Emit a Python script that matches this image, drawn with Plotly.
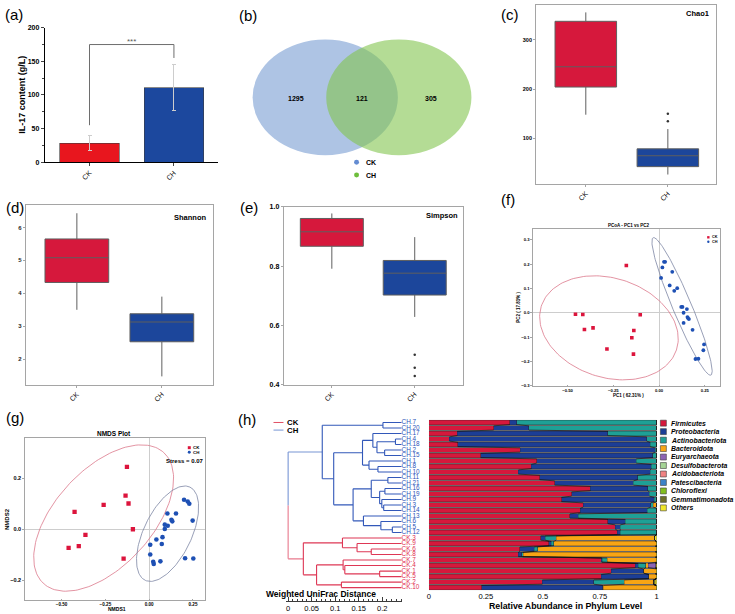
import numpy as np
import plotly.graph_objects as go

W, H = 735, 614
FONT = "Liberation Sans, Arial, sans-serif"


def px(x):
    return x / W


def py(y):
    return 1 - y / H


def dom_x(a, b):
    return [a / W, b / W]


def dom_y(top, bottom):
    return [1 - bottom / H, 1 - top / H]


# ---------------- data ----------------
GROUPS = ["CK", "CH"]
CK_RED = "rgb(214,24,60)"
CH_BLUE = "rgb(28,70,155)"

# (a) IL-17
IL17_MEAN = [28, 111]
IL17_ERR = [11, 34]
IL17_COLORS = ["rgb(232,22,30)", "rgb(28,72,158)"]
SIG_Y = 175
SIG_DROP = [55, 155]

# (b) Venn
VENN_COUNTS = [1295, 121, 305]

# (c)(d)(e) box statistics  [CK, CH]
CHAO1 = dict(lower=[148, 27], q1=[204, 43], median=[245, 65], q3=[337, 79], upper=[355, 119])
CHAO1_OUT_CH = [135, 150]
SHANNON = dict(lower=[3.50, 1.48], q1=[4.33, 2.53], median=[5.08, 3.13], q3=[5.65, 3.38], upper=[6.43, 3.90])
SIMPSON = dict(lower=[0.791, 0.628], q1=[0.867, 0.702], median=[0.916, 0.776], q3=[0.961, 0.819], upper=[0.978, 0.898])
SIMPSON_OUT_CH = [0.428, 0.456, 0.50]

# (f) PCoA
PCOA_CK_X = [-0.179, -0.457, -0.417, -0.408, -0.361, -0.285, -0.149, -0.138, -0.140, -0.103]
PCOA_CK_Y = [0.194, -0.006, -0.007, -0.069, -0.062, -0.149, -0.103, -0.073, -0.170, -0.008]
PCOA_CH_X = [0.027, 0.033, 0.018, 0.072, 0.011, 0.058, 0.099, 0.083, 0.121, 0.128, 0.152,
             0.134, 0.155, 0.163, 0.158, 0.134, 0.183, 0.246, 0.242, 0.199, 0.215]
PCOA_CH_Y = [0.209, 0.209, 0.186, 0.168, 0.143, 0.112, 0.101, 0.090, 0.024, 0.024, 0.015,
             0.000, -0.018, -0.026, -0.022, -0.042, -0.070, -0.130, -0.154, -0.190, -0.189]
# ellipse: centre x, centre y, semi-axis a (px), semi-axis b (px), tilt (deg)
PCOA_ELL_CK = [-0.274, -0.062, 71.5, 50.3, 18.3]
PCOA_ELL_CH = [0.1255, 0.026, 75.5, 9.5, 67.4]

# (g) NMDS
NMDS_CK_X = [-0.127, -0.135, -0.118, -0.260, -0.426, -0.364, -0.402, -0.460, -0.093, -0.146]
NMDS_CK_Y = [0.245, 0.132, 0.101, 0.096, 0.068, -0.022, -0.066, -0.073, 0.000, -0.115]
NMDS_CH_X = [0.199, 0.220, 0.229, 0.248, 0.153, 0.104, 0.127, 0.132, 0.089, 0.106, 0.089,
             0.076, 0.041, 0.072, 0.006, 0.006, 0.023, 0.026, 0.064, 0.205, 0.252]
NMDS_CH_Y = [0.116, 0.109, 0.100, 0.034, 0.062, 0.062, 0.037, 0.031, 0.018, 0.014, 0.001,
             -0.031, -0.040, -0.058, -0.061, -0.099, -0.128, -0.136, -0.126, -0.114, -0.115]
NMDS_ELL_CK = [-0.26, 0.044, 89.6, 48.8, -47.7]
NMDS_ELL_CH = [0.105, -0.0175, 52.2, 24.0, -64.5]

# (h) samples, dendrogram and phylum composition
SAMPLES = ["CH.7", "CH.20", "CH.17", "CH.4", "CH.18", "CH.2", "CH.15", "CH.1", "CH.8", "CH.10",
           "CH.11", "CH.21", "CH.16", "CH.19", "CH.9", "CH.3", "CH.14", "CH.13", "CH.6", "CH.5",
           "CH.12", "CK.3", "CK.9", "CK.6", "CK.8", "CK.7", "CK.4", "CK.1", "CK.5", "CK.2", "CK.10"]
LEAF_X = 0.2409
DENDRO_MERGES = [
    ("n0", 0, 1, 0.2014), ("n1", 3, 4, 0.228), ("n2", 5, 6, 0.205), ("n3", "n1", "n2", 0.1887),
    ("n4", 2, "n3", 0.180), ("n5", 8, 9, 0.1908), ("n6", 7, "n5", 0.1718), ("n7", "n4", "n6", 0.158),
    ("n8", 10, 11, 0.2119), ("n9", 12, 13, 0.2056), ("n10", 15, 16, 0.203), ("n11", 14, "n10", 0.199),
    ("n12", "n9", "n11", 0.1944), ("n13", "n8", "n12", 0.1766), ("n14", 19, 20, 0.2214),
    ("n15", 18, "n14", 0.197), ("n16", 17, "n15", 0.160), ("n17", "n13", "n16", 0.138),
    ("n18", "n7", "n17", 0.0968), ("n19", "n0", "n18", 0.0725),
    ("n20", 23, 24, 0.1766), ("n21", 22, "n20", 0.1464), ("n22", 21, "n21", 0.1154),
    ("n23", 27, 28, 0.1944), ("n24", 26, "n23", 0.1204), ("n25", 25, "n24", 0.1168),
    ("n26", 29, 30, 0.1132), ("n27", "n25", "n26", 0.0604), ("n28", "n22", "n27", 0.0323),
    ("n29", "n19", "n28", 0.0),
]

PHYLA = ["Firmicutes", "Proteobacteria", "Actinobacteriota", "Bacteroidota", "Euryarchaeota",
         "Desulfobacterota", "Acidobacteriota", "Patescibacteria", "Chloroflexi",
         "Gemmatimonadota", "Others"]
PHYLA_COLORS = ["rgb(214,24,60)", "rgb(28,62,150)", "rgb(30,160,150)", "rgb(248,165,20)",
                "rgb(140,100,180)", "rgb(165,212,150)", "rgb(240,130,130)", "rgb(60,130,200)",
                "rgb(130,190,30)", "rgb(110,110,40)", "rgb(240,230,40)"]
FIRMICUTES = [0.355, 0.284, 0.124, 0.090, 0.127, 0.400, 0.228, 0.473, 0.450, 0.393, 0.486, 0.552,
              0.709, 0.626, 0.582, 0.677, 0.664, 0.619, 0.786, 0.818, 0.827, 0.491, 0.527, 0.399,
              0.393, 0.757, 0.906, 0.800, 0.757, 0.498, 0.231]
PROTEOBACTERIA = [0.030, 0.155, 0.662, 0.866, 0.844, 0.593, 0.755, 0.437, 0.527, 0.578, 0.430, 0.346,
                  0.252, 0.342, 0.407, 0.297, 0.295, 0.036, 0.076, 0.022, 0.013, 0.019, 0.010, 0.063,
                  0.015, 0.003, 0.012, 0.142, 0.207, 0.226, 0.532]
ACTINOBACTERIOTA = [0.615, 0.561, 0.214, 0.044, 0.029, 0.007, 0.017, 0.090, 0.023, 0.029, 0.084, 0.102,
                    0.039, 0.032, 0.011, 0.011, 0.041, 0.345, 0.138, 0.160, 0.160, 0.049, 0.011, 0.015,
                    0.005, 0.022, 0.034, 0.002, 0.002, 0.134, 0.003]
BACTEROIDOTA = [0.0] * 15 + [0.015] + [0.0] * 5 + [0.433, 0.450, 0.521, 0.585, 0.216, 0.010, 0.054,
                                                   0.032, 0.128, 0.231]
EURYARCHAEOTA = [0.0] * 26 + [0.034] + [0.0] * 4
DESULFOBACTEROTA = [0.0] * 26 + [0.002] + [0.0] * 4
ACIDOBACTERIOTA = [0.0] * 31
PATESCIBACTERIA = [0.0] * 31
CHLOROFLEXI = [0.0] * 31
GEMMATIMONADOTA = [0.0] * 29 + [0.008, 0.0]
OTHERS = [0.0] * 21 + [0.008, 0.002, 0.002, 0.002, 0.002, 0.002, 0.002, 0.002, 0.006, 0.003]
PHYLA_VALUES = [FIRMICUTES, PROTEOBACTERIA, ACTINOBACTERIOTA, BACTEROIDOTA, EURYARCHAEOTA,
                DESULFOBACTEROTA, ACIDOBACTERIOTA, PATESCIBACTERIA, CHLOROFLEXI, GEMMATIMONADOTA, OTHERS]

# ---------------- figure ----------------
fig = go.Figure()
shapes = []
annotations = []


def ann(x, y, text, size=8, color="black", xanchor="center", yanchor="middle", angle=0):
    annotations.append(dict(x=px(x), y=py(y), xref="paper", yref="paper", text=text, showarrow=False,
                            font=dict(size=size, color=color, family=FONT), xanchor=xanchor,
                            yanchor=yanchor, textangle=angle, borderpad=0))


# panel letters
for lab, x, y in [("(a)", 2, 11), ("(b)", 237, 12), ("(c)", 501, 11), ("(d)", 3, 206),
                  ("(e)", 238, 206), ("(f)", 501, 198), ("(g)", 3, 418), ("(h)", 236, 420)]:
    ann(x, y, lab, size=15, xanchor="left")

# (a) bars
fig.add_trace(go.Bar(x=GROUPS, y=IL17_MEAN, width=0.706, xaxis="x", yaxis="y", showlegend=False,
                     marker=dict(color=IL17_COLORS, line=dict(color="rgb(60,60,60)", width=0.6)),
                     error_y=dict(type="data", array=IL17_ERR, color="rgb(205,205,205)",
                                  thickness=1, width=2)))
shapes += [
    dict(type="line", xref="x", yref="y", x0=0, x1=1, y0=SIG_Y, y1=SIG_Y, line=dict(color="rgb(110,110,110)", width=1)),
    dict(type="line", xref="x", yref="y", x0=0, x1=0, y0=SIG_Y, y1=SIG_DROP[0], line=dict(color="rgb(110,110,110)", width=1)),
    dict(type="line", xref="x", yref="y", x0=1, x1=1, y0=SIG_Y, y1=SIG_DROP[1], line=dict(color="rgb(110,110,110)", width=1)),
]
annotations.append(dict(x=0.5, y=SIG_Y, xref="x", yref="y", text="***", showarrow=False, yanchor="bottom",
                        font=dict(size=8, color="rgb(90,90,90)", family=FONT), yshift=-3))
ann(20, 92, "<b>IL-17 content (g/L)</b>", size=9, angle=-90)

# (b) Venn
shapes.append(dict(type="circle", xref="paper", yref="paper", x0=px(252), x1=px(398), y0=py(153), y1=py(36),
                   fillcolor="rgb(174,196,228)", line=dict(width=0), layer="below"))
shapes.append(dict(type="circle", xref="paper", yref="paper", x0=px(326), x1=px(472), y0=py(153), y1=py(36),
                   fillcolor="rgb(130,196,78)", opacity=0.6, line=dict(width=0), layer="below"))
for v, x in zip(VENN_COUNTS, [296, 362, 431]):
    ann(x, 96, f"<b>{v}</b>", size=7)
for lab, col, y in [("CK", "rgb(100,140,210)", 160), ("CH", "rgb(110,190,60)", 173)]:
    shapes.append(dict(type="circle", xref="paper", yref="paper", x0=px(354), x1=px(359), y0=py(y + 2.5),
                       y1=py(y - 2.5), fillcolor=col, line=dict(width=0)))
    ann(365, y, f"<b>{lab}</b>", size=7, xanchor="left")


# box plots
def add_boxes(stats, xa, ya, width):
    for i, (g, c) in enumerate(zip(GROUPS, [CK_RED, CH_BLUE])):
        fig.add_trace(go.Box(x=[g], q1=[stats["q1"][i]], median=[stats["median"][i]], q3=[stats["q3"][i]],
                             lowerfence=[stats["lower"][i]], upperfence=[stats["upper"][i]],
                             width=width, whiskerwidth=0, fillcolor=c, boxpoints=False,
                             line=dict(color="rgb(95,95,95)", width=1), xaxis=xa, yaxis=ya,
                             showlegend=False, hoverinfo="skip"))


add_boxes(CHAO1, "x2", "y2", 0.75)
fig.add_trace(go.Scatter(x=["CH"] * len(CHAO1_OUT_CH), y=CHAO1_OUT_CH, mode="markers", xaxis="x2", yaxis="y2",
                         marker=dict(size=2.5, color="rgb(50,50,50)"), showlegend=False))
add_boxes(SHANNON, "x3", "y3", 0.75)
add_boxes(SIMPSON, "x4", "y4", 0.76)
fig.add_trace(go.Scatter(x=["CH"] * len(SIMPSON_OUT_CH), y=SIMPSON_OUT_CH, mode="markers", xaxis="x4", yaxis="y4",
                         marker=dict(size=2.5, color="rgb(50,50,50)"), showlegend=False))
ann(712, 10, "<b>Chao1</b>", size=7.5, xanchor="right")
ann(206, 216, "<b>Shannon</b>", size=7.5, xanchor="right")
ann(460, 214, "<b>Simpson</b>", size=7.5, xanchor="right")


def ellipse(params, sx, sy, n=160):
    cx, cy, a, b, th = params
    t = np.linspace(0, 2 * np.pi, n)
    th = np.deg2rad(th)
    dx = a * np.cos(t) * np.cos(th) - b * np.sin(t) * np.sin(th)
    dy = a * np.cos(t) * np.sin(th) + b * np.sin(t) * np.cos(th)
    return cx + dx / sx, cy - dy / sy


# (f) PCoA
for prm, col in [(PCOA_ELL_CK, "rgb(220,120,140)"), (PCOA_ELL_CH, "rgb(125,135,165)")]:
    ex, ey = ellipse(prm, 184, 247)
    fig.add_trace(go.Scatter(x=ex, y=ey, mode="lines", line=dict(color=col, width=0.8), xaxis="x5", yaxis="y5",
                             showlegend=False, hoverinfo="skip"))
fig.add_trace(go.Scatter(x=PCOA_CK_X, y=PCOA_CK_Y, mode="markers", xaxis="x5", yaxis="y5", showlegend=False,
                         marker=dict(symbol="square", size=3.6, color="rgb(220,20,60)")))
fig.add_trace(go.Scatter(x=PCOA_CH_X, y=PCOA_CH_Y, mode="markers", xaxis="x5", yaxis="y5", showlegend=False,
                         marker=dict(symbol="circle", size=3.8, color="rgb(30,80,180)")))
ann(630, 224, "<b>PCoA - PC1 vs PC2</b>", size=4.5)
ann(630, 396, "<b>PC1 ( 62.31% )</b>", size=4.5)
ann(519, 307, "<b>PC2 ( 17.81% )</b>", size=4.5, angle=-90)
for lab, col, y, sym in [("CK", "rgb(220,20,60)", 236, "rect"), ("CH", "rgb(30,80,180)", 240.5, "circle")]:
    shapes.append(dict(type=sym, xref="paper", yref="paper", x0=px(709), x1=px(711.4), y0=py(y + 1.2),
                       y1=py(y - 1.2), fillcolor=col, line=dict(width=0)))
    ann(712.5, y, f"<b>{lab}</b>", size=3.8, xanchor="left")

# (g) NMDS
for prm, col in [(NMDS_ELL_CK, "rgb(220,120,140)"), (NMDS_ELL_CH, "rgb(125,135,165)")]:
    ex, ey = ellipse(prm, 176, 257.5)
    fig.add_trace(go.Scatter(x=ex, y=ey, mode="lines", line=dict(color=col, width=0.8), xaxis="x6", yaxis="y6",
                             showlegend=False, hoverinfo="skip"))
fig.add_trace(go.Scatter(x=NMDS_CK_X, y=NMDS_CK_Y, mode="markers", xaxis="x6", yaxis="y6", showlegend=False,
                         marker=dict(symbol="square", size=4.3, color="rgb(220,20,60)")))
fig.add_trace(go.Scatter(x=NMDS_CH_X, y=NMDS_CH_Y, mode="markers", xaxis="x6", yaxis="y6", showlegend=False,
                         marker=dict(symbol="circle", size=4.6, color="rgb(30,80,180)")))
ann(113, 434.5, "<b>NMDS Plot</b>", size=6.5)
ann(116, 612.3, "<b>NMDS1</b>", size=5)
ann(5, 521, "<b>NMDS2</b>", size=6, angle=-90)
for lab, col, y, sym in [("CK", "rgb(220,20,60)", 448.8, "rect"), ("CH", "rgb(30,80,180)", 453.5, "circle")]:
    shapes.append(dict(type=sym, xref="paper", yref="paper", x0=px(186.8), x1=px(189.8), y0=py(y + 1.5),
                       y1=py(y - 1.5), fillcolor=col, line=dict(width=0)))
    ann(191.5, y, f"<b>{lab}</b>", size=4.4, xanchor="left")
ann(204, 462.5, "<b>Stress = 0.07</b>", size=6, xanchor="right")

# (h) dendrogram
pos = {i: (LEAF_X, float(i)) for i in range(len(SAMPLES))}
members = {i: [i] for i in range(len(SAMPLES))}
n_ch = sum(s.startswith("CH") for s in SAMPLES)
seg = {"ch": ([], []), "ck": ([], []), "rch": ([], []), "rck": ([], [])}


def add_seg(key, x0, y0, x1, y1):
    seg[key][0].extend([x0, x1, None])
    seg[key][1].extend([y0, y1, None])


for nid, l, r, h in DENDRO_MERGES:
    (xl, yl), (xr, yr) = pos[l], pos[r]
    ym = (yl + yr) / 2
    mem = members[l] + members[r]
    members[nid] = mem
    pos[nid] = (h, ym)
    if all(m < n_ch for m in mem):
        key = "ch"
    elif all(m >= n_ch for m in mem):
        key = "ck"
    else:
        add_seg("rch", h, yl, h, ym)
        add_seg("rck", h, ym, h, yr)
        add_seg("rch", h, yl, xl, yl)
        add_seg("rck", h, yr, xr, yr)
        continue
    add_seg(key, h, yl, h, yr)
    add_seg(key, h, yl, xl, yl)
    add_seg(key, h, yr, xr, yr)

for key, col in [("rch", "rgb(120,150,212)"), ("rck", "rgb(232,120,140)"),
                 ("ch", "rgb(50,88,185)"), ("ck", "rgb(222,55,85)")]:
    fig.add_trace(go.Scatter(x=seg[key][0], y=seg[key][1], mode="lines", line=dict(color=col, width=1.1),
                             xaxis="x7", yaxis="y7", showlegend=False, hoverinfo="skip"))
fig.add_trace(go.Scatter(x=[LEAF_X] * len(SAMPLES), y=list(range(len(SAMPLES))), mode="text", text=SAMPLES,
                         textposition="middle right", cliponaxis=False, xaxis="x7", yaxis="y7",
                         showlegend=False, hoverinfo="skip",
                         textfont=dict(size=6.4, family=FONT,
                                       color=["rgb(45,85,185)" if s.startswith("CH") else "rgb(225,45,80)"
                                              for s in SAMPLES])))
for lab, col, y in [("CK", "rgb(225,80,100)", 423.3), ("CH", "rgb(120,150,212)", 431)]:
    shapes.append(dict(type="line", xref="paper", yref="paper", x0=px(273), x1=px(283), y0=py(y), y1=py(y),
                       line=dict(color=col, width=1)))
    ann(286, y, f"<b>{lab}</b>", size=7.8, xanchor="left")
ann(320.5, 596.5, "<b>Weighted UniFrac Distance</b>", size=8.5)

# (h) stacked bars
ys = list(range(len(SAMPLES)))
BAR_W = 0.76
shapes.append(dict(type="rect", xref="x8", yref="y8", x0=0, x1=1, y0=-0.5, y1=len(SAMPLES) - 0.5,
                   fillcolor="rgb(128,128,128)", line=dict(width=0), layer="below"))
for name, col, vals in zip(PHYLA, PHYLA_COLORS, PHYLA_VALUES):
    fig.add_trace(go.Bar(x=vals, y=ys, orientation="h", width=BAR_W, name=name, xaxis="x8", yaxis="y8",
                         marker=dict(color=col, line=dict(color="rgba(40,40,40,0.7)", width=0.4)),
                         showlegend=False))
cum = np.cumsum(np.array(PHYLA_VALUES), axis=0)  # phyla x samples
lx, ly = [], []
for i in range(len(SAMPLES) - 1):
    for k in range(len(PHYLA) - 1):
        a, b = cum[k, i], cum[k, i + 1]
        if a > 0.999 and b > 0.999:
            continue
        lx += [a, b, None]
        ly += [i + BAR_W / 2, i + 1 - BAR_W / 2, None]
fig.add_trace(go.Scatter(x=lx, y=ly, mode="lines", line=dict(color="rgb(15,15,15)", width=0.6),
                         xaxis="x8", yaxis="y8", showlegend=False, hoverinfo="skip"))
ann(567, 609, "<b>Relative Abundance in Phylum Level</b>", size=8.8)

# phylum legend
for k, (name, col) in enumerate(zip(PHYLA, PHYLA_COLORS)):
    yy = 424 + 8.57 * k
    shapes.append(dict(type="rect", xref="paper", yref="paper", x0=px(662), x1=px(668), y0=py(yy + 3),
                       y1=py(yy - 3), fillcolor=col, line=dict(color="rgb(60,60,60)", width=0.6)))
    ann(672, yy, f"<b><i>{name}</i></b>", size=6.9, xanchor="left")

# ---------------- axes ----------------
GRAY = "rgb(165,165,165)"


def box_axis(dom, rng, **kw):
    d = dict(domain=dom, range=rng, showgrid=False, zeroline=False, showline=True, linecolor=GRAY,
             linewidth=1, mirror=True, ticks="outside", ticklen=2, tickcolor=GRAY,
             tickfont=dict(size=6, family=FONT, weight="bold", color="rgb(40,40,40)"))
    d.update(kw)
    return d


xcat = dict(type="category", categoryorder="array", categoryarray=GROUPS, tickangle=-45,
            tickfont=dict(size=7, family=FONT, color="black"))

layout_axes = dict(
    xaxis=dict(domain=dom_x(43, 217), range=[-0.53, 1.52], anchor="y", showline=True, linecolor="black",
               ticks="outside", ticklen=3, showgrid=False, zeroline=False, **xcat),
    yaxis=dict(domain=dom_y(24, 160), range=[0, 200], dtick=50, anchor="x", showline=True, linecolor="black",
               ticks="outside", ticklen=3, showgrid=False, zeroline=False,
               minor=dict(dtick=25, ticks="outside", ticklen=1.5),
               tickfont=dict(size=7, family=FONT, weight="bold")),
    xaxis2=box_axis(dom_x(537, 718), [-0.606, 1.588], anchor="y2", **xcat),
    yaxis2=box_axis(dom_y(1, 182), [8, 370], anchor="x2", tickvals=[100, 200, 300], tickfont=dict(size=5.5, family=FONT, weight="bold")),
    xaxis3=box_axis(dom_x(24, 212), [-0.60, 1.60], anchor="y3", **xcat),
    yaxis3=box_axis(dom_y(203, 385), [1.23, 6.69], anchor="x3", dtick=1),
    xaxis4=box_axis(dom_x(283.3, 464), [-0.58, 1.588], anchor="y4", **xcat),
    yaxis4=box_axis(dom_y(205, 385), [0.399, 1.001], anchor="x4", dtick=0.2, tickformat=".1f",
                    tickfont=dict(size=7, family=FONT, weight="bold")),
    xaxis5=box_axis(dom_x(534.3, 722.3), [-0.687, 0.335], anchor="y5", tickvals=[-0.5, -0.25, 0, 0.25],
                    tickformat=".2f", zeroline=True, zerolinecolor="rgb(205,205,205)", zerolinewidth=1,
                    ticks="inside", ticklen=1, ticklabelstandoff=0,
                    tickfont=dict(size=4.2, family=FONT, weight="bold")),
    yaxis5=box_axis(dom_y(227.3, 386.7), [-0.302, 0.345], anchor="x5", tickvals=[-0.3, -0.2, -0.1, 0, 0.1, 0.2, 0.3],
                    tickformat=".1f", zeroline=True, zerolinecolor="rgb(205,205,205)", zerolinewidth=1,
                    tickfont=dict(size=4.2, family=FONT, weight="bold")),
    xaxis6=box_axis(dom_x(23.3, 204), [-0.708, 0.318], anchor="y6", tickvals=[-0.5, -0.25, 0, 0.25],
                    tickformat=".2f", zeroline=True, zerolinecolor="rgb(205,205,205)", zerolinewidth=1,
                    ticks="inside", ticklen=1, ticklabelstandoff=0,
                    tickfont=dict(size=4.6, family=FONT, weight="bold")),
    yaxis6=box_axis(dom_y(439.3, 602.7), [-0.277, 0.357], anchor="x6", tickvals=[-0.2, 0, 0.2],
                    tickformat=".1f", zeroline=True, zerolinecolor="rgb(205,205,205)", zerolinewidth=1,
                    tickfont=dict(size=5.5, family=FONT, weight="bold")),
)

# dendrogram axis = distance ruler
D_SCALE = 473.3  # px per distance unit
D0_PX = 287.7
d_lo, d_hi = -0.005, LEAF_X + 0.002
layout_axes["xaxis7"] = dict(domain=dom_x(D0_PX + d_lo * D_SCALE, D0_PX + d_hi * D_SCALE), range=[d_lo, d_hi],
                             anchor="free", position=py(604.3), showline=True, linecolor="rgb(60,60,60)",
                             linewidth=1, showgrid=False, zeroline=False, ticks="inside", ticklen=4,
                             tickvals=[0, 0.05, 0.1, 0.15, 0.2], ticktext=["0", "0.05", "0.1", "0.15", "0.2"],
                             minor=dict(dtick=0.01, ticks="inside", ticklen=2, tickcolor="rgb(60,60,60)"),
                             ticklabelstandoff=0,
                             tickcolor="rgb(60,60,60)", tickfont=dict(size=7.5, family=FONT, color="black"))
layout_axes["yaxis7"] = dict(domain=dom_y(420.5, 593.1), range=[len(SAMPLES) - 0.5, -0.5], anchor="x7",
                             visible=False)
layout_axes["xaxis8"] = dict(domain=dom_x(429.3, 658.3), range=[0, 1], anchor="y8", showline=False,
                             showgrid=False, zeroline=False, ticks="", tickvals=[0, 0.25, 0.5, 0.75, 1],
                             ticktext=["0", "0.25", "0.5", "0.75", "1"], ticklabelstandoff=0,
                             tickfont=dict(size=7.6, family=FONT, color="black"))
layout_axes["yaxis8"] = dict(domain=dom_y(420.5, 593.1), range=[len(SAMPLES) - 0.5, -0.5], anchor="x8",
                             visible=False)

fig.update_layout(
    width=W, height=H, margin=dict(l=0, r=0, t=0, b=0), paper_bgcolor="white", plot_bgcolor="white",
    font=dict(family=FONT, color="black"), barmode="stack", showlegend=False,
    shapes=shapes, annotations=annotations, **layout_axes,
)

fig.write_html("out.html", config={"displayModeBar": False, "staticPlot": True},
               post_script="document.body.style.margin='0';document.body.style.overflow='hidden';")
